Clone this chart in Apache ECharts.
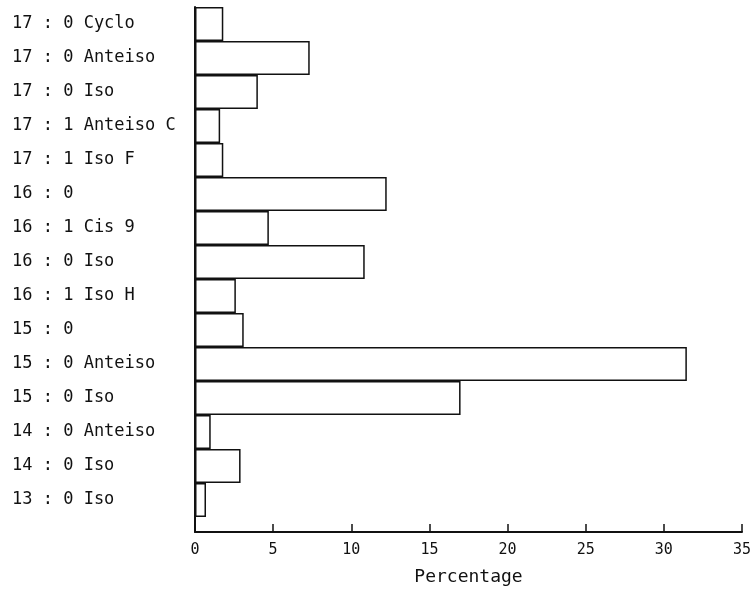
<!DOCTYPE html>
<html>
<head>
<meta charset="utf-8">
<script src="https://cdn.jsdelivr.net/npm/echarts@6/dist/echarts.min.js"></script>
<style>
html,body{margin:0;padding:0;background:#fff;}
#chart{width:754px;height:597px;}
</style>
</head>
<body>
<div id="chart"></div>
<script>
// Categories, top to bottom
var categories = [
  "17 : 0 Cyclo",
  "17 : 0 Anteiso",
  "17 : 0 Iso",
  "17 : 1 Anteiso C",
  "17 : 1 Iso F",
  "16 : 0",
  "16 : 1 Cis 9",
  "16 : 0 Iso",
  "16 : 1 Iso H",
  "15 : 0",
  "15 : 0 Anteiso",
  "15 : 0 Iso",
  "14 : 0 Anteiso",
  "14 : 0 Iso",
  "13 : 0 Iso"
];
// Percentages, same order
var percentages = [1.8, 7.3, 4.0, 1.6, 1.8, 12.2, 4.7, 10.8, 2.6, 3.1, 31.3, 16.9, 1.0, 2.9, 0.7];
var xTicks = [0, 5, 10, 15, 20, 25, 30, 35];
var xAxisName = "Percentage";

var labelFont = "DejaVu Sans Mono";
var chart = echarts.init(document.getElementById('chart'), null, {renderer: 'canvas'});
chart.setOption({
  backgroundColor: '#fff',
  animation: false,
  grid: [
    {left: 195, right: 9, top: 7, height: 510, containLabel: false},
    {left: 195, right: 9, top: 517, height: 15, containLabel: false}
  ],
  xAxis: [
    {gridIndex: 0, type: 'value', min: xTicks[0], max: xTicks[xTicks.length-1], interval: 5, show: false},
    {gridIndex: 1, type: 'value', min: xTicks[0], max: xTicks[xTicks.length-1], interval: 5,
     position: 'bottom',
     axisLine: {show: true, lineStyle: {color: '#111', width: 2}},
     axisTick: {show: true, inside: true, length: 8, lineStyle: {color: '#111', width: 1.5}},
     splitLine: {show: false},
     axisLabel: {margin: 11, color: '#111', fontSize: 15, fontFamily: labelFont},
     name: xAxisName, nameLocation: 'middle', nameGap: 36,
     nameTextStyle: {color: '#111', fontSize: 18, fontFamily: labelFont}
    }
  ],
  yAxis: [
    {gridIndex: 0, type: 'category', data: categories, inverse: true,
     axisLine: {show: true, lineStyle: {color: '#111', width: 2}},
     axisTick: {show: false},
     splitLine: {show: false},
     axisLabel: {align: 'left', margin: 183, color: '#111', fontSize: 17, fontFamily: labelFont}
    },
    {gridIndex: 1, type: 'value', min: 0, max: 1,
     axisLine: {show: true, lineStyle: {color: '#111', width: 2}},
     axisTick: {show: false}, axisLabel: {show: false}, splitLine: {show: false}
    }
  ],
  series: [{
    type: 'bar',
    xAxisIndex: 0, yAxisIndex: 0,
    data: percentages,
    barCategoryGap: 0,
    itemStyle: {color: '#fff', borderColor: '#111', borderWidth: 1.5},
    silent: true
  }]
});
</script>
</body>
</html>
